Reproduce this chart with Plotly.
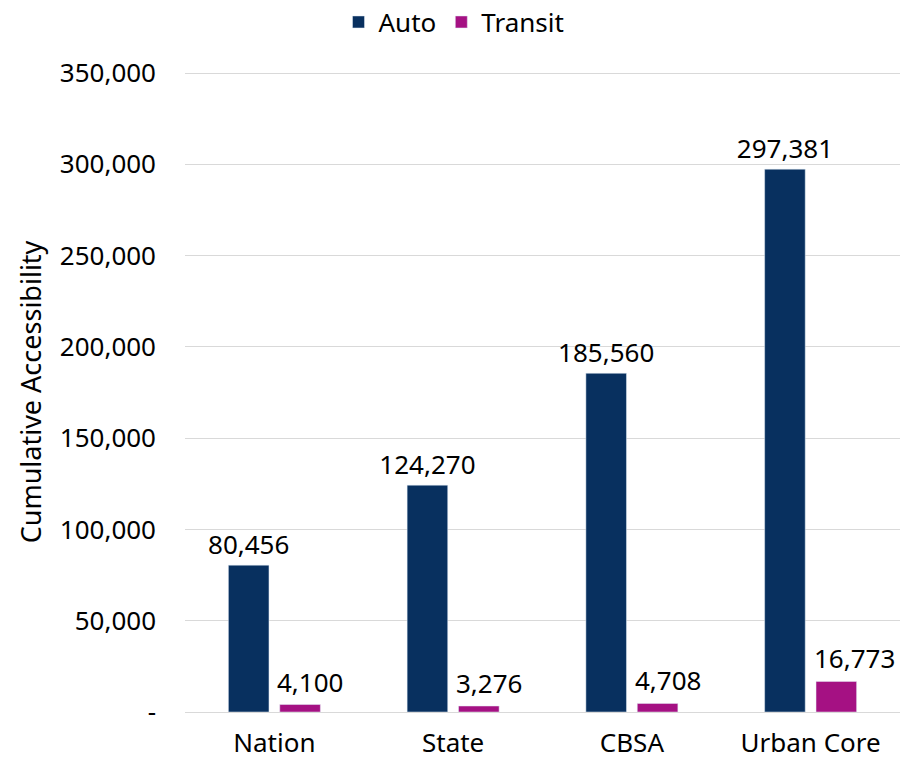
import plotly.graph_objects as go

categories = ["Nation", "State", "CBSA", "Urban Core"]
auto_values = [80456, 124270, 185560, 297381]
transit_values = [4100, 3276, 4708, 16773]
tick_vals = [0, 50000, 100000, 150000, 200000, 250000, 300000, 350000]
tick_text = ["-", "50,000", "100,000", "150,000", "200,000", "250,000", "300,000", "350,000"]

AUTO_COLOR = "#08305F"
TRANSIT_COLOR = "#A51183"
FONT = "Noto Sans"
FS = 26

fig = go.Figure()
fig.add_trace(go.Bar(
    name="Auto", x=categories, y=auto_values, marker_color=AUTO_COLOR,
    text=[f"{v:,}" for v in auto_values], textposition="outside",
    constraintext="none",
    textfont=dict(size=FS, color="#000000", family=FONT), cliponaxis=False,
))
fig.add_trace(go.Bar(
    name="Transit", x=categories, y=transit_values, marker_color=TRANSIT_COLOR,
))

# Transit labels: left-aligned to the transit bar, as in the reference
for cat, val in zip(categories, transit_values):
    fig.add_annotation(
        x=cat, y=val, xref="x", yref="y", text=f"{val:,}", showarrow=False,
        xanchor="left", yanchor="bottom", xshift=1, yshift=3,
        font=dict(size=FS, color="#000000", family=FONT),
    )

fig.update_layout(
    width=892, height=750,
    barmode="group", bargap=0.425, bargroupgap=0.21,
    plot_bgcolor="white", paper_bgcolor="white",
    margin=dict(l=177, r=0, t=64, b=46, autoexpand=False),
    font=dict(family=FONT, size=FS, color="#000000"),
    legend=dict(orientation="h", x=0.5, xanchor="center", xref="container",
                y=1.078, yanchor="middle", yref="paper",
                font=dict(size=FS), itemwidth=30, traceorder="normal"),
    showlegend=True,
)
fig.update_yaxes(
    range=[0, 350600], tickvals=tick_vals, ticktext=tick_text,
    showgrid=True, gridcolor="#D9D9D9", gridwidth=1, zeroline=False,
    showline=False, ticks="", ticklabelstandoff=28, automargin=False,
    title=dict(text="Cumulative Accessibility", font=dict(size=27), standoff=10),
    tickfont=dict(size=FS),
)
fig.update_xaxes(
    showline=True, linecolor="#D9D9D9", linewidth=1, automargin=False,
    ticks="", tickfont=dict(size=FS), showgrid=False, ticklabelstandoff=8,
)
fig.write_html("out.html")
